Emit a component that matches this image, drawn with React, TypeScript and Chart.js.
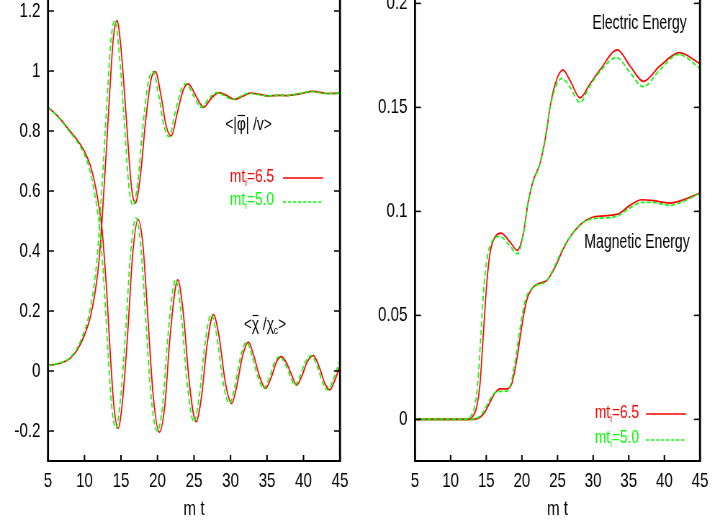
import { useEffect, useRef } from "react";
import { Chart, registerables } from "chart.js";

Chart.register(...registerables);

// ---------------- data ----------------
const xTicks = [5, 10, 15, 20, 25, 30, 35, 40, 45];
const leftYTicks = [-0.2, 0, 0.2, 0.4, 0.6, 0.8, 1, 1.2];
const rightYTicks = [0, 0.05, 0.1, 0.15, 0.2];
const legendValues = ["6.5", "5.0"];

// left panel: <|phi|/v>
const phiRedT = [5, 6.5, 8, 9, 10, 10.8, 11.5, 12, 12.35, 13, 13.5, 13.95, 14.45, 15.0, 15.7, 16.4, 16.96, 17.6, 18.4, 19.1, 19.7, 20.5, 21.2, 21.9, 22.7, 23.5, 24.2, 25.3, 26.3, 27.4, 28.4, 29.5, 30.5, 31.6, 32.7, 34, 35.3, 36.5, 37.8, 39.5, 41.3, 43.2, 45];
const phiRedV = [0.018, 0.025, 0.042, 0.07, 0.12, 0.18, 0.27, 0.37, 0.484, 0.74, 0.95, 1.11, 1.168, 1.075, 0.85, 0.62, 0.56, 0.64, 0.84, 0.97, 0.998, 0.915, 0.815, 0.784, 0.86, 0.935, 0.957, 0.915, 0.879, 0.91, 0.928, 0.918, 0.905, 0.915, 0.926, 0.922, 0.917, 0.919, 0.918, 0.924, 0.932, 0.925, 0.926];
const phiGreenT = [5, 6.45, 7.9, 8.85, 9.8, 10.55, 11.22, 11.7, 12.05, 12.7, 13.2, 13.65, 14.15, 14.7, 15.4, 16.1, 16.66, 17.3, 18.1, 18.8, 19.4, 20.2, 20.9, 21.6, 22.4, 23.2, 23.9, 25.0, 26.0, 27.1, 28.1, 29.2, 30.25, 31.35, 32.45, 33.75, 35.05, 36.25, 37.55, 39.25, 41.05, 42.95, 45];
const phiGreenV = [0.018, 0.025, 0.042, 0.07, 0.12, 0.18, 0.27, 0.37, 0.484, 0.74, 0.95, 1.11, 1.168, 1.075, 0.85, 0.61, 0.552, 0.63, 0.84, 0.97, 0.998, 0.915, 0.815, 0.781, 0.86, 0.935, 0.957, 0.915, 0.879, 0.91, 0.928, 0.918, 0.905, 0.915, 0.926, 0.922, 0.917, 0.919, 0.918, 0.924, 0.932, 0.925, 0.926];

// left panel: <chi/chi_c>
const chiRedT = [5, 6.5, 8, 9, 10, 10.8, 11.5, 12, 12.35, 13, 13.5, 14.0, 14.6, 15.2, 15.9, 16.6, 17.35, 18.0, 18.7, 19.4, 20.25, 21.0, 21.7, 22.77, 23.5, 24.4, 25.27, 26.0, 26.8, 27.65, 28.4, 29.3, 30.16, 30.9, 31.6, 32.44, 33.2, 34.0, 34.8, 35.6, 36.3, 37.0, 37.8, 38.4, 39.06, 39.8, 40.5, 41.35, 42.2, 42.9, 43.6, 44.3, 45];
const chiRedV = [0.879, 0.845, 0.8, 0.77, 0.732, 0.685, 0.615, 0.545, 0.484, 0.28, 0.07, -0.11, -0.191, -0.1, 0.12, 0.39, 0.505, 0.42, 0.17, -0.08, -0.204, -0.115, 0.11, 0.304, 0.2, -0.05, -0.169, -0.09, 0.09, 0.188, 0.12, -0.04, -0.108, -0.045, 0.045, 0.096, 0.05, -0.02, -0.058, -0.02, 0.03, 0.048, 0.02, -0.015, -0.047, -0.015, 0.03, 0.051, 0.01, -0.04, -0.063, -0.03, 0.018];
const chiGreenT = [5, 6.45, 7.9, 8.85, 9.8, 10.55, 11.22, 11.7, 12.05, 12.7, 13.2, 13.7, 14.3, 14.9, 15.6, 16.3, 17.05, 17.7, 18.4, 19.1, 19.95, 20.7, 21.4, 22.47, 23.2, 24.1, 24.97, 25.7, 26.5, 27.35, 28.1, 29.0, 29.86, 30.65, 31.35, 32.19, 32.95, 33.75, 34.55, 35.35, 36.05, 36.75, 37.55, 38.15, 38.81, 39.55, 40.25, 41.1, 41.95, 42.65, 43.35, 44.05, 44.75, 45];
const chiGreenV = [0.879, 0.845, 0.8, 0.77, 0.732, 0.685, 0.615, 0.545, 0.484, 0.28, 0.07, -0.11, -0.191, -0.1, 0.12, 0.39, 0.51, 0.42, 0.17, -0.08, -0.2, -0.115, 0.11, 0.304, 0.2, -0.05, -0.169, -0.09, 0.09, 0.188, 0.12, -0.04, -0.108, -0.045, 0.045, 0.096, 0.05, -0.02, -0.058, -0.02, 0.03, 0.048, 0.02, -0.015, -0.047, -0.015, 0.03, 0.051, 0.01, -0.04, -0.063, -0.03, 0.018, 0.035];

// right panel: electric energy
const elecRedT = [5, 10, 12.5, 13.2, 13.66, 14.12, 14.59, 15.06, 15.53, 16.23, 17.07, 18.33, 19.36, 20.2, 20.91, 21.61, 22.54, 23.39, 23.95, 24.65, 25.75, 26.75, 28.16, 29.5, 30.96, 33.4, 35.17, 37.05, 39.4, 42.1, 45];
const elecRedV = [0, 0, 0, 0.002, 0.006, 0.017, 0.041, 0.065, 0.08, 0.0877, 0.0896, 0.0853, 0.0813, 0.0893, 0.105, 0.115, 0.123, 0.137, 0.15, 0.161, 0.168, 0.163, 0.1546, 0.161, 0.168, 0.1777, 0.17, 0.1625, 0.17, 0.1763, 0.171];
const elecGreenT = [5, 10, 12.2, 12.9, 13.35, 13.8, 14.25, 14.7, 15.2, 15.9, 16.85, 18.2, 19.36, 20.15, 20.85, 21.55, 22.45, 23.3, 23.85, 24.55, 25.6, 26.7, 28.16, 29.5, 30.9, 33.3, 35.1, 37.05, 39.35, 42.0, 45];
const elecGreenV = [0, 0, 0, 0.002, 0.006, 0.017, 0.041, 0.065, 0.079, 0.086, 0.088, 0.084, 0.0796, 0.088, 0.104, 0.114, 0.122, 0.136, 0.148, 0.158, 0.164, 0.16, 0.1524, 0.16, 0.167, 0.174, 0.167, 0.16, 0.168, 0.1755, 0.1688];

// right panel: magnetic energy
const magRedT = [5, 12, 13.2, 14.12, 14.8, 15.53, 16.23, 16.93, 17.87, 18.57, 19.27, 19.97, 20.67, 21.61, 22.54, 23.48, 24.65, 25.82, 26.75, 28.63, 30.03, 32.37, 33.54, 35.17, 36.81, 38.22, 40.79, 42.43, 45];
const magRedV = [0, 0, 0, 0.001, 0.0035, 0.0083, 0.0127, 0.0147, 0.0147, 0.0171, 0.0284, 0.0444, 0.0572, 0.0636, 0.0655, 0.0668, 0.0732, 0.082, 0.0877, 0.0949, 0.0973, 0.0981, 0.0988, 0.1029, 0.1056, 0.1053, 0.104, 0.1053, 0.1088];
const magGreenT = [5, 12, 13.0, 13.9, 14.6, 15.3, 16.0, 16.7, 17.7, 18.4, 19.05, 19.75, 20.45, 21.4, 22.35, 23.3, 24.45, 25.65, 26.6, 28.5, 30.0, 32.3, 33.5, 35.1, 36.8, 38.2, 40.8, 42.4, 45];
const magGreenV = [0, 0, 0, 0.001, 0.0035, 0.0083, 0.0122, 0.0135, 0.0135, 0.0165, 0.028, 0.044, 0.057, 0.063, 0.065, 0.066, 0.0725, 0.0815, 0.087, 0.0945, 0.0965, 0.097, 0.098, 0.1015, 0.1043, 0.1043, 0.1029, 0.1045, 0.1088];

// ---------------- styling ----------------
const FONT = "'Liberation Sans', Arial, Helvetica, sans-serif";
const RED = "#ff0000";
const GREEN = "#00ff00";
// The canvas is drawn wider than it is shown, to get the narrow gnuplot-like lettering.
const S = 0.72; // horizontal display squeeze
const PANEL_W = 360; // shown width of each panel
const CANVAS_W = PANEL_W / S; // drawn width
const CANVAS_TOP = -20; // canvases shifted up so the top frame line is cropped
const CANVAS_H = 540;

Chart.defaults.font.family = FONT;
Chart.defaults.color = "#000";

const pts = (t: number[], v: number[]) => t.map((x, i) => ({ x, y: v[i] }));

const red = (label: string, t: number[], v: number[]) => ({
  label,
  data: pts(t, v),
  borderColor: RED,
  borderWidth: 1.7,
  pointRadius: 0,
  cubicInterpolationMode: "monotone",
  fill: false,
});
const green = (label: string, t: number[], v: number[]) => ({
  label,
  data: pts(t, v),
  borderColor: GREEN,
  borderWidth: 1.7,
  borderDash: [5.5, 3],
  pointRadius: 0,
  cubicInterpolationMode: "monotone",
  fill: false,
});

type Part = { t: string; sub?: boolean; bar?: boolean };

function drawRich(ctx: CanvasRenderingContext2D, parts: Part[], x: number, y: number, size: number, color: string, align: "left" | "right" | "center") {
  ctx.save();
  ctx.fillStyle = color;
  ctx.strokeStyle = color;
  ctx.textBaseline = "middle";
  ctx.textAlign = "left";
  const sub = size * 0.62;
  const widths = parts.map((p) => {
    ctx.font = `${p.sub ? sub : size}px ${FONT}`;
    return ctx.measureText(p.t).width;
  });
  const total = widths.reduce((a, b) => a + b, 0);
  let cx = align === "left" ? x : align === "right" ? x - total : x - total / 2;
  parts.forEach((p, i) => {
    ctx.font = `${p.sub ? sub : size}px ${FONT}`;
    const yy = p.sub ? y + size * 0.32 : y;
    ctx.fillText(p.t, cx, yy);
    if (p.bar) {
      ctx.lineWidth = 1.2;
      ctx.beginPath();
      ctx.moveTo(cx + 1, y - size * 0.5);
      ctx.lineTo(cx + widths[i] - 1, y - size * 0.5);
      ctx.stroke();
    }
    cx += widths[i];
  });
  ctx.restore();
}

function seg(ctx: CanvasRenderingContext2D, x1: number, y1: number, x2: number, y2: number) {
  ctx.beginPath();
  ctx.moveTo(x1, y1);
  ctx.lineTo(x2, y2);
  ctx.stroke();
}

const framePlugin = {
  id: "gnuFrame",
  afterDraw(chart: any) {
    const { ctx, chartArea: a, scales } = chart;
    ctx.save();
    ctx.strokeStyle = "#000";
    const tick = 6;
    ctx.lineWidth = 1.5 / S;
    for (const tk of scales.x.ticks) {
      const px = scales.x.getPixelForValue(tk.value);
      seg(ctx, px, a.bottom, px, a.bottom - tick);
    }
    ctx.lineWidth = 1.5;
    for (const tk of scales.y.ticks) {
      const py = scales.y.getPixelForValue(tk.value);
      seg(ctx, a.left, py, a.left + tick / S, py);
      seg(ctx, a.right, py, a.right - tick / S, py);
    }
    ctx.lineWidth = 2;
    seg(ctx, a.left, a.bottom, a.right, a.bottom);
    seg(ctx, a.left, a.top, a.right, a.top);
    ctx.lineWidth = 2 / S;
    seg(ctx, a.left, a.top, a.left, a.bottom + 1);
    seg(ctx, a.right, a.top, a.right, a.bottom + 1);
    ctx.restore();
  },
};

// page -> canvas coordinates (each canvas knows its own page left edge)
const cx = (pageX: number, left: number) => (pageX - left) / S;
const cy = (pageY: number) => pageY - CANVAS_TOP;

function legend(ctx: CanvasRenderingContext2D, left: number, textRight: number, lineX1: number, lineX2: number, y1: number, y2: number) {
  drawRich(ctx, [{ t: "mt" }, { t: "i", sub: true }, { t: "=" + legendValues[0] }], cx(textRight, left), cy(y1), 19, RED, "right");
  drawRich(ctx, [{ t: "mt" }, { t: "i", sub: true }, { t: "=" + legendValues[1] }], cx(textRight, left), cy(y2), 19, GREEN, "right");
  ctx.save();
  ctx.lineWidth = 1.6;
  ctx.strokeStyle = RED;
  seg(ctx, cx(lineX1, left), cy(y1 + 1), cx(lineX2, left), cy(y1 + 1));
  ctx.strokeStyle = GREEN;
  ctx.setLineDash([4.2, 2.8]);
  seg(ctx, cx(lineX1, left), cy(y2 + 2), cx(lineX2, left), cy(y2 + 2));
  ctx.restore();
}

function makeConfig(datasets: any[], yMin: number, yMax: number, yTicks: number[], yAxisWidth: number, padTop: number, draw: (ctx: CanvasRenderingContext2D) => void) {
  return {
    type: "line",
    data: { datasets },
    options: {
      responsive: false,
      animation: false,
      events: [],
      layout: { autoPadding: false, padding: { left: 0, right: 20 / S, top: padTop, bottom: 0 } },
      plugins: { legend: { display: false }, tooltip: { enabled: false }, title: { display: false } },
      scales: {
        x: {
          type: "linear",
          min: 5,
          max: 45,
          grid: { display: false, drawTicks: false },
          border: { display: false },
          ticks: { padding: 8, color: "#000", font: { size: 21 }, maxRotation: 0, autoSkip: false, callback: (v: number) => String(v) },
          afterBuildTicks: (s: any) => {
            s.ticks = xTicks.map((value) => ({ value }));
          },
          afterFit: (s: any) => {
            s.height = CANVAS_H - 481;
            s.paddingLeft = 0;
            s.paddingRight = 0;
          },
          title: { display: true, text: "m t", color: "#000", font: { size: 21 }, padding: { top: 0, bottom: -2 } },
        },
        y: {
          type: "linear",
          min: yMin,
          max: yMax,
          grid: { display: false, drawTicks: false },
          border: { display: false },
          ticks: { padding: 10.5, color: "#000", font: { size: 21 }, autoSkip: false, callback: (v: number) => String(v) },
          afterBuildTicks: (s: any) => {
            s.ticks = yTicks.map((value) => ({ value }));
          },
          afterFit: (s: any) => {
            s.width = yAxisWidth / S;
            s.paddingTop = 0;
            s.paddingBottom = 0;
          },
        },
      },
    },
    plugins: [
      framePlugin,
      {
        id: "annotations",
        afterDraw(chart: any) {
          draw(chart.ctx);
        },
      },
    ],
  };
}

export default function App() {
  const leftRef = useRef<HTMLCanvasElement>(null);
  const rightRef = useRef<HTMLCanvasElement>(null);

  useEffect(() => {
    const L = 0;
    const R = 360;
    const leftCfg = makeConfig(
      [
        green("phi mt_i=5.0", phiGreenT, phiGreenV),
        green("chi mt_i=5.0", chiGreenT, chiGreenV),
        red("phi mt_i=6.5", phiRedT, phiRedV),
        red("chi mt_i=6.5", chiRedT, chiRedV),
      ],
      -0.3,
      1.25,
      leftYTicks,
      48,
      16,
      (ctx) => {
        drawRich(ctx, [{ t: "<|" }, { t: "φ", bar: true }, { t: "| /v>" }], cx(248.5, L), cy(125), 19, "#000", "center");
        legend(ctx, L, 274, 283, 323, 177, 200);
        drawRich(ctx, [{ t: "<" }, { t: "χ", bar: true }, { t: " /χ" }, { t: "c", sub: true }, { t: ">" }], cx(265, L), cy(325), 19, "#000", "center");
      }
    );
    const rightCfg = makeConfig(
      [
        green("Electric mt_i=5.0", elecGreenT, elecGreenV),
        green("Magnetic mt_i=5.0", magGreenT, magGreenV),
        red("Electric mt_i=6.5", elecRedT, elecRedV),
        red("Magnetic mt_i=6.5", magRedT, magRedV),
      ],
      -0.02,
      0.205,
      rightYTicks,
      55,
      13,
      (ctx) => {
        drawRich(ctx, [{ t: "Electric Energy" }], cx(639.5, R), cy(24), 19.5, "#000", "center");
        drawRich(ctx, [{ t: "Magnetic Energy" }], cx(637, R), cy(243), 19.5, "#000", "center");
        legend(ctx, R, 639, 646, 686, 413, 438);
      }
    );
    const c1 = new Chart(leftRef.current as HTMLCanvasElement, leftCfg as any);
    const c2 = new Chart(rightRef.current as HTMLCanvasElement, rightCfg as any);
    return () => {
      c1.destroy();
      c2.destroy();
    };
  }, []);

  const canvasStyle = (left: number) => ({
    position: "absolute" as const,
    left,
    top: CANVAS_TOP,
    width: PANEL_W,
    height: CANVAS_H,
    display: "block",
  });

  return (
    <div style={{ position: "absolute", left: 0, top: 0, width: 720, height: 520, overflow: "hidden", background: "#fff" }}>
      <canvas ref={leftRef} width={CANVAS_W} height={CANVAS_H} style={canvasStyle(0)} />
      <canvas ref={rightRef} width={CANVAS_W} height={CANVAS_H} style={canvasStyle(360)} />
    </div>
  );
}
